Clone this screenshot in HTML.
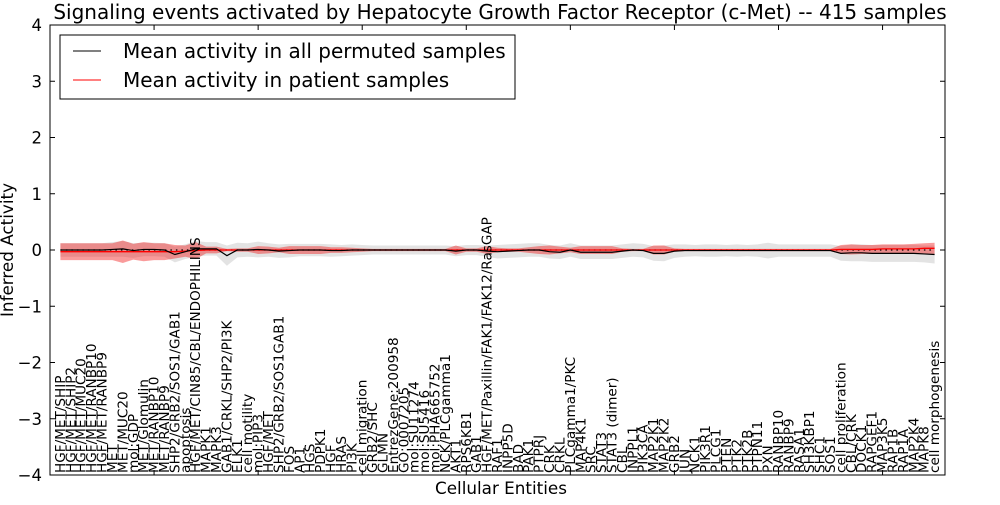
<!DOCTYPE html>
<html><head><meta charset="utf-8"><style>
body{margin:0;background:#fff;}
svg text{font-family:"DejaVu Sans","Liberation Sans",sans-serif;}
</style></head><body>
<svg id="chart" width="1000" height="500" viewBox="0 0 1000 500">
<rect x="0" y="0" width="1000" height="500" fill="#fff"/>
<g id="plot"></g>
</svg>
<script>
const labels=["HGF/MET/SHIP","HGF/MET/SHIP2","HGF/MET/MUC20","HGF/MET/RANBP10","HGF/MET/RANBP9","MET","MET/MUC20","mol:GDP","MET/Glomulin","MET/RANBP10","MET/RANBP9","SHP2/GRB2/SOS1/GAB1","apoptosis","HGF/MET/CIN85/CBL/ENDOPHILINS","MAPK1","MAPK3","GAB1/CRKL/SHP2/PI3K","ELK1","cell motility","mol:PIP3","HGF/MET","SHP2/GRB2/SOS1GAB1","FOS","AP1","HGS","PDPK1","HGF","HRAS","PI3K","cell migration","GRB2/SHC","GLMN","EntrezGene:200958","GO:0007205","mol:SU11274","mol:SU5416","mol:PHA665752","NCK/PLCgamma1","AKT1","RPS6KB1","GAB1","HGF/MET/Paxillin/FAK1/FAK12/RasGAP","RAF1","INPP5D","BAD","PAK1","PTPRJ","CRK","CRKL","PLCgamma1/PKC","MAP4K1","SRC","STAT3","STAT3 (dimer)","CBL","INPPL1","PIK3CA","MAP2K1","MAP2K2","GRB2","JUN","NCK1","PIK3R1","PLCG1","PTEN","PTK2","PTK2B","PTPN11","PXN","RANBP10","RANBP9","RASA1","SH3KBP1","SHC1","SOS1","cell proliferation","CBL/CRK","DOCK1","RAPGEF1","MAP3K5","RAP1B","RAP1A","MAP2K4","MAPK8","cell morphogenesis"];
const permMean=[0,0,0,0,0,0.01,0.02,-0.01,0.01,0.01,0,-0.08,-0.03,0.02,0.02,0.02,-0.1,0,0,0.01,0,-0.02,-0.01,0,0,0,-0.01,-0.01,0,0,0,0,0,0,0,0,0,0,-0.02,0,0,-0.02,-0.03,-0.02,-0.01,0,0,-0.03,-0.04,0,-0.04,-0.04,-0.04,-0.04,-0.02,0,-0.01,-0.06,-0.06,-0.02,-0.01,-0.01,-0.01,-0.01,-0.01,-0.01,-0.01,-0.01,-0.01,-0.01,-0.01,-0.01,-0.01,-0.01,-0.01,-0.06,-0.05,-0.05,-0.06,-0.06,-0.06,-0.06,-0.06,-0.07,-0.08];
const permSd=[0.12,0.12,0.12,0.12,0.12,0.13,0.14,0.13,0.12,0.12,0.12,0.14,0.13,0.14,0.12,0.12,0.18,0.13,0.12,0.14,0.12,0.12,0.12,0.11,0.11,0.11,0.11,0.1,0.1,0.09,0.08,0.08,0.08,0.08,0.08,0.08,0.08,0.08,0.09,0.09,0.09,0.1,0.12,0.12,0.12,0.12,0.12,0.12,0.12,0.12,0.12,0.12,0.12,0.12,0.12,0.12,0.12,0.13,0.14,0.12,0.11,0.1,0.11,0.11,0.1,0.11,0.1,0.11,0.14,0.11,0.11,0.11,0.11,0.11,0.11,0.13,0.15,0.15,0.15,0.15,0.15,0.15,0.15,0.15,0.16];
const patMean=[-0.03,-0.03,-0.03,-0.03,-0.03,-0.03,-0.03,-0.03,-0.03,-0.03,-0.03,-0.03,-0.02,-0.01,0,0,0,0,0,0,0,0,0,0,0,0,0,0,0,0,0,0,0,0,0,0,0,0,0,0,0,0,0,0,0,0,0,0,0,0,0,0,0,0,0,0,0,0,0,0,0,0,0,0,0,0,0,0,0,0,0,0,0,0,0,0.01,0.01,0.01,0.01,0.02,0.02,0.02,0.02,0.03,0.03];
const patSd=[0.15,0.15,0.15,0.15,0.15,0.15,0.2,0.14,0.17,0.15,0.15,0.12,0.1,0.15,0.06,0.06,0.02,0.03,0.03,0.07,0.06,0.04,0.07,0.07,0.07,0.07,0.05,0.05,0.04,0.03,0.02,0.02,0.02,0.02,0.02,0.02,0.02,0.02,0.08,0.03,0.03,0.07,0.04,0.03,0.03,0.05,0.07,0.08,0.06,0.04,0.07,0.07,0.07,0.07,0.03,0.02,0.02,0.08,0.08,0.03,0.02,0.02,0.02,0.02,0.02,0.02,0.02,0.02,0.02,0.02,0.02,0.02,0.02,0.02,0.02,0.08,0.09,0.08,0.08,0.08,0.08,0.08,0.09,0.09,0.1];
const yTicks=[-4,-3,-2,-1,0,1,2,3,4];
const xTicks=[10,20,30,40,50,60,70,80];
const L=50,R=945,T=25,B=475;
const xs=i=>L+(i)*(R-L)/86;
const ys=v=>T+(4-v)*(B-T)/8;
const NS="http://www.w3.org/2000/svg";
const g=document.getElementById('plot');
function mk(t,a,txt){const e=document.createElementNS(NS,t);for(const k in a)e.setAttribute(k,a[k]);if(txt!==undefined)e.textContent=txt;g.appendChild(e);return e;}
function band(m,s,fill,op,name){
  let up=m.map((v,i)=>xs(i+1)+','+ys(v+s[i]));
  let dn=m.map((v,i)=>xs(i+1)+','+ys(v-s[i])).reverse();
  const e=mk('polygon',{points:up.concat(dn).join(' '),fill:fill,'fill-opacity':op,stroke:'none'});
  
  
}
band(permMean,permSd,'#c8c8c8',0.5,'permuted-band');
band(patMean,patSd,'#f01010',0.42,'patient-band');
let zl=mk('line',{x1:xs(1),x2:xs(85),y1:ys(0),y2:ys(0),stroke:'#000','stroke-dasharray':'1.5,4','stroke-width':1.2});


let pl=mk('polyline',{points:patMean.map((v,i)=>xs(i+1)+','+ys(v)).join(' '),fill:'none',stroke:'#f00','stroke-width':1.3});


let bl=mk('polyline',{points:permMean.map((v,i)=>xs(i+1)+','+ys(v)).join(' '),fill:'none',stroke:'#000','stroke-width':1.2});


labels.forEach((s,i)=>{
  const x=xs(i+1)+4.5;
  const t=mk('text',{x:0,y:0,transform:`translate(${x},473) rotate(-90)`,'font-size':13.6},s);
  
  
});
const fr=mk('rect',{x:L,y:T,width:R-L,height:B-T,fill:'none',stroke:'#000','stroke-width':1});


yTicks.forEach(v=>{
  mk('line',{x1:L,x2:L+5,y1:ys(v),y2:ys(v),stroke:'#000'});
  mk('line',{x1:R,x2:R-5,y1:ys(v),y2:ys(v),stroke:'#000'});
  const t=mk('text',{x:L-8,y:ys(v)+6,'text-anchor':'end','font-size':16.5},(v<0?'\u2212'+(-v):String(v)));
  
  
});
xTicks.forEach(v=>{
  mk('line',{x1:xs(v),x2:xs(v),y1:T,y2:T+5,stroke:'#000'});
  mk('line',{x1:xs(v),x2:xs(v),y1:B,y2:B-5,stroke:'#000'});
});
let tt=mk('text',{x:500,y:19,'text-anchor':'middle','font-size':20},'Signaling events activated by Hepatocyte Growth Factor Receptor (c-Met) -- 415 samples');


let xt=mk('text',{x:501,y:494,'text-anchor':'middle','font-size':16.8},'Cellular Entities');


let yt=mk('text',{x:0,y:0,transform:'translate(13,250) rotate(-90)','text-anchor':'middle','font-size':16.8},'Inferred Activity');


let lg=mk('rect',{x:60,y:35,width:455,height:64,fill:'#fff',stroke:'#000'});


mk('line',{x1:73,x2:101,y1:51,y2:51,stroke:'#000'});
let l1=mk('text',{x:123,y:58,'font-size':20},'Mean activity in all permuted samples');


mk('line',{x1:73,x2:101,y1:80,y2:80,stroke:'#f00'});
let l2=mk('text',{x:123,y:87,'font-size':20},'Mean activity in patient samples');


</script>
</body></html>
